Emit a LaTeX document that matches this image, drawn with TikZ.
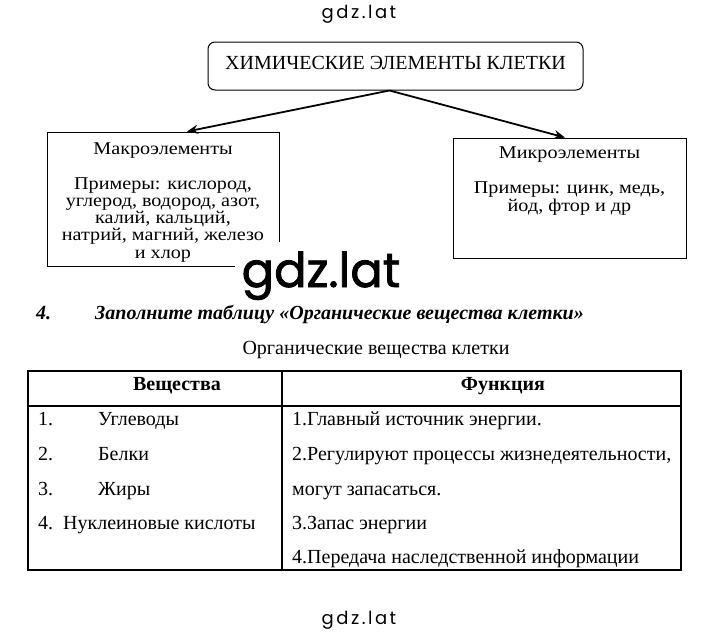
\documentclass[tikz,border=0pt]{standalone}
\usepackage{fontspec}
\setmainfont{Liberation Serif}
\newfontfamily\boxfont[FakeStretch=1.12]{Liberation Serif}
\newfontfamily\markfont{Poppins}
\newfontfamily\bigmarkfont[FakeBold=1.6]{Poppins}
\usetikzlibrary{arrows.meta}

\tikzset{
  elbox/.style={draw, line width=1pt, align=center, inner ysep=0pt, font=\boxfont\fontsize{18}{17.25}\selectfont},
  cell/.style={anchor=base west, inner sep=0pt, font=\fontsize{20}{22}\selectfont},
  head/.style={anchor=base, inner sep=0pt, font=\bfseries\fontsize{20}{22}\selectfont},
  link/.style={line width=1.8pt, -{Stealth[length=11pt,width=9pt]}},
  smallmark/.style={anchor=base, inner sep=0pt, font=\markfont\addfontfeatures{LetterSpace=14}\fontsize{18}{18}\selectfont},
}

\begin{document}
\begin{tikzpicture}[x=1pt,y=-1pt]
  \useasboundingbox[fill=white] (0,0) rectangle (720,635);

  % watermark
  \node[smallmark] (marktop) at (359,18) {gdz.lat};

  % scheme
  \node[draw, line width=1pt, rounded corners=7pt, minimum width=375pt, minimum height=48pt,
    text height=13pt, text depth=7pt, font=\fontsize{20}{22}\selectfont] (chem) at (395.5,66) {ХИМИЧЕСКИЕ ЭЛЕМЕНТЫ КЛЕТКИ};
  \node[elbox, minimum width=232pt, minimum height=134pt] (macro) at (163,199)
    {\rule{0pt}{22pt}Макроэлементы\\[17.75pt] Примеры: кислород,\\ углерод, водород, азот,\\ калий, кальций,\\ натрий, магний, железо\\ и хлор\rule[-8pt]{0pt}{8pt}};
  \node[elbox, minimum width=233pt, minimum height=120pt] (micro) at (569.5,198)
    {\rule{0pt}{20pt}Микроэлементы\\[17.75pt] Примеры: цинк, медь,\\[1.25pt] йод, фтор и др\rule[-46pt]{0pt}{46pt}};
  \draw[link] ([xshift=-6pt]chem.south) -- ([xshift=24pt]macro.north);
  \draw[link] ([xshift=-6pt]chem.south) -- ([xshift=-4.5pt]micro.north);

  % watermark over the box
  \node[anchor=base, fill=white, inner xsep=7pt, inner ysep=9pt, font=\bigmarkfont\fontsize{48}{48}\selectfont] (markbig) at (321,287) {gdz.lat};

  % task
  \node[cell, font=\bfseries\itshape\fontsize{20}{22}\selectfont] (tasknum) at (36,319) {4.};
  \node[cell, font=\bfseries\itshape\fontsize{20}{22}\selectfont] (task) at (95,319) {Заполните таблицу «Органические вещества клетки»};
  \node[anchor=base, inner sep=0pt, font=\fontsize{20}{22}\selectfont] (caption) at (376,354) {Органические вещества клетки};

  % table
  \draw[line width=1.3pt] (28,371) rectangle (681,570);
  \draw[line width=1.3pt] (28,406) -- (681,406);
  \draw[line width=1.3pt] (282,371) -- (282,570);
  \node[head] (hsub) at (177,390) {Вещества};
  \node[head] (hfun) at (503,390) {Функция};

  \foreach \n/\w/\y in {1/Углеводы/425, 2/Белки/460, 3/Жиры/495}{
    \node[cell] (num\n) at (38,\y) {\n.};
    \node[cell] (sub\n) at (98,\y) {\w};
  }
  \node[cell] (sub4) at (38,529) {4.\ \ Нуклеиновые кислоты};

  \node[cell] (fun1) at (292,425) {1.Главный источник энергии.};
  \node[cell] (fun2) at (292,460) {2.Регулируют процессы жизнедеятельности,};
  \node[cell] (fun2b) at (292,495) {могут запасаться.};
  \node[cell] (fun3) at (292,529) {3.Запас энергии};
  \node[cell] (fun4) at (292,563) {4.Передача наследственной информации};

  % watermark
  \node[smallmark] (markbot) at (359,624) {gdz.lat};
\end{tikzpicture}
\end{document}
